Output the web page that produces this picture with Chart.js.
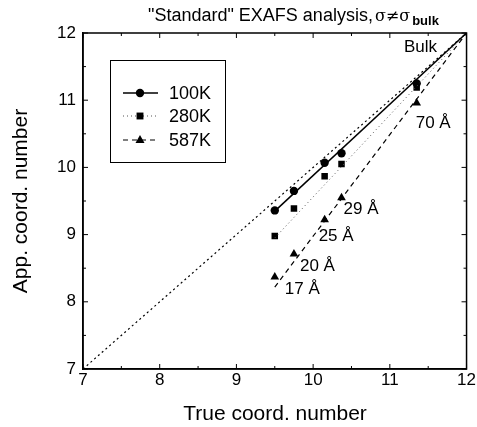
<!DOCTYPE html>
<html>
<head>
<meta charset="utf-8">
<script src="https://cdn.jsdelivr.net/npm/chart.js@4.4.0/dist/chart.umd.min.js"></script>
<style>
  html, body { margin: 0; padding: 0; background: #fff; }
  #wrap { width: 477px; height: 427px; position: relative; }
</style>
</head>
<body>
<div id="wrap"><canvas id="myChart"></canvas></div>
<script>
// values
const trueCN = [9.5, 9.75, 10.15, 10.37, 11.35];
const app100K = [9.36, 9.65, 10.07, 10.21, 11.25];
const app280K = [8.98, 9.39, 9.87, 10.05, 11.19];
const app587K = [8.37, 8.71, 9.22, 9.55, 10.96];
const sizeLabels = ["17 Å", "20 Å", "25 Å", "29 Å", "70 Å"];

const fitX = [9.5, 12];
const fit100K = [9.35, 12];
const fit280K = [8.95, 12];
const fit587K = [8.22, 12];
const diagX = [7, 12];
const diagY = [7, 12];

const xTicks = [7, 8, 9, 10, 11, 12];
const yTicks = [7, 8, 9, 10, 11, 12];
const seriesNames = ["100K", "280K", "587K"];

const FONT = "'Liberation Sans', Arial, Helvetica, sans-serif";

function pts(xs, ys) {
  return xs.map((x, i) => ({ x: x, y: ys[i] }));
}

// little nudges for the size labels (text placement only)
const labelNudge = [[10, 12], [6, 12], [-6, 16], [2, 12], [-1, 20]];

const extras = {
  id: "extras",
  afterDraw(chart) {
    const ctx = chart.ctx;
    const a = chart.chartArea;
    const xs = chart.scales.x;
    const ys = chart.scales.y;
    ctx.save();

    // frame (top + right, the lib draws left/bottom)
    ctx.strokeStyle = "#000";
    ctx.lineWidth = 1.5;
    ctx.strokeRect(a.left, a.top, a.right - a.left, a.bottom - a.top);

    // inside ticks, all four sides
    ctx.lineWidth = 1;
    for (let v = 7; v <= 12.001; v += 0.5) {
      const major = Math.abs(v - Math.round(v)) < 0.01;
      const len = major ? 5 : 3;
      const px = xs.getPixelForValue(v);
      ctx.beginPath();
      ctx.moveTo(px, a.bottom); ctx.lineTo(px, a.bottom - len);
      ctx.moveTo(px, a.top); ctx.lineTo(px, a.top + len);
      const py = ys.getPixelForValue(v);
      ctx.moveTo(a.left, py); ctx.lineTo(a.left + len, py);
      ctx.moveTo(a.right, py); ctx.lineTo(a.right - len, py);
      ctx.stroke();
    }

    // title
    ctx.fillStyle = "#000";
    ctx.textBaseline = "alphabetic";
    ctx.textAlign = "left";
    let tx = 148;
    const ty = 21;
    ctx.font = "18px " + FONT;
    const t1 = '"Standard" EXAFS analysis,';
    ctx.fillText(t1, tx, ty);
    tx += ctx.measureText(t1).width + 2;
    ctx.font = "16px 'DejaVu Serif', serif";
    const t2 = "σ≠σ";
    ctx.fillText(t2, tx, ty);
    tx += ctx.measureText(t2).width + 2;
    ctx.font = "bold 13px " + FONT;
    ctx.fillText("bulk", tx, ty + 4);

    // Bulk label
    ctx.font = "17px " + FONT;
    ctx.fillText("Bulk", 404, 52);

    // size labels next to the 587K triangles
    ctx.font = "17px " + FONT;
    ctx.textBaseline = "middle";
    sizeLabels.forEach((lab, i) => {
      const px = xs.getPixelForValue(trueCN[i]);
      const py = ys.getPixelForValue(app587K[i]);
      ctx.fillText(lab, px + labelNudge[i][0], py + labelNudge[i][1]);
    });

    // axis titles
    ctx.font = "21px " + FONT;
    ctx.textAlign = "center";
    ctx.fillText("True coord. number", 275, 414);
    ctx.save();
    ctx.translate(21, 201);
    ctx.rotate(-Math.PI / 2);
    ctx.fillText("App. coord. number", 0, 0);
    ctx.restore();

    // legend box
    ctx.lineWidth = 1;
    ctx.strokeRect(110.5, 60.5, 115, 102);
    const ds = chart.data.datasets;
    const rows = [93, 116, 140];
    ctx.textAlign = "left";
    ctx.font = "18px " + FONT;
    [4, 5, 6].forEach((di, k) => {
      const d = ds[di];
      const lineDs = ds[di - 3];
      const y = rows[k];
      ctx.strokeStyle = lineDs.borderColor;
      ctx.lineWidth = lineDs.borderWidth;
      ctx.setLineDash(lineDs.borderDash || []);
      ctx.beginPath();
      ctx.moveTo(123, y); ctx.lineTo(158, y);
      ctx.stroke();
      ctx.setLineDash([]);
      ctx.fillStyle = "#000";
      const r = d.pointRadius;
      ctx.beginPath();
      if (d.pointStyle === "circle") {
        ctx.arc(140, y, r, 0, Math.PI * 2);
      } else if (d.pointStyle === "rect") {
        ctx.rect(140 - r * 0.75, y - r * 0.75, r * 1.5, r * 1.5);
      } else {
        ctx.moveTo(140, y - r); ctx.lineTo(140 + r * 0.9, y + r * 0.6); ctx.lineTo(140 - r * 0.9, y + r * 0.6);
        ctx.closePath();
      }
      ctx.fill();
      ctx.textBaseline = "middle";
      ctx.fillText(seriesNames[k], 169, y + 1);
    });

    ctx.restore();
  }
};

const lineBase = { showLine: true, pointRadius: 0, fill: false, borderColor: "#000", backgroundColor: "#000" };
const pointBase = { showLine: false, borderColor: "#000", backgroundColor: "#000", borderWidth: 0 };

new Chart(document.getElementById("myChart"), {
  type: "scatter",
  data: {
    datasets: [
      { ...lineBase, label: "y=x", data: pts(diagX, diagY), borderWidth: 1.2, borderDash: [2, 3] },
      { ...lineBase, label: seriesNames[0] + " fit", data: pts(fitX, fit100K), borderWidth: 1.5 },
      { ...lineBase, label: seriesNames[1] + " fit", data: pts(fitX, fit280K), borderWidth: 1, borderDash: [1, 3], borderColor: "#555" },
      { ...lineBase, label: seriesNames[2] + " fit", data: pts(fitX, fit587K), borderWidth: 1.2, borderDash: [5, 4] },
      { ...pointBase, label: seriesNames[0], data: pts(trueCN, app100K), pointStyle: "circle", pointRadius: 4.2 },
      { ...pointBase, label: seriesNames[1], data: pts(trueCN, app280K), pointStyle: "rect", pointRadius: 4.6 },
      { ...pointBase, label: seriesNames[2], data: pts(trueCN, app587K), pointStyle: "triangle", pointRadius: 5 },
    ],
  },
  options: {
    responsive: true,
    maintainAspectRatio: false,
    animation: false,
    events: [],
    layout: { padding: { top: 33, right: 9, left: 0, bottom: 0 } },
    plugins: { legend: { display: false }, tooltip: { enabled: false }, title: { display: false } },
    scales: {
      x: {
        type: "linear",
        min: 7,
        max: 12,
        afterBuildTicks: (s) => { s.ticks = xTicks.map((v) => ({ value: v })); },
        afterFit: (s) => { s.height = 58; },
        grid: { display: false, drawTicks: false },
        border: { display: true, color: "#000", width: 1.5 },
        ticks: { color: "#000", font: { family: FONT, size: 17 }, padding: 1, maxRotation: 0 },
      },
      y: {
        type: "linear",
        min: 7,
        max: 12,
        afterBuildTicks: (s) => { s.ticks = yTicks.map((v) => ({ value: v })); },
        afterFit: (s) => { s.width = 83; },
        grid: { display: false, drawTicks: false },
        border: { display: true, color: "#000", width: 1.5 },
        ticks: { color: "#000", font: { family: FONT, size: 17 }, padding: 7 },
      },
    },
  },
  plugins: [extras],
});
</script>
</body>
</html>
